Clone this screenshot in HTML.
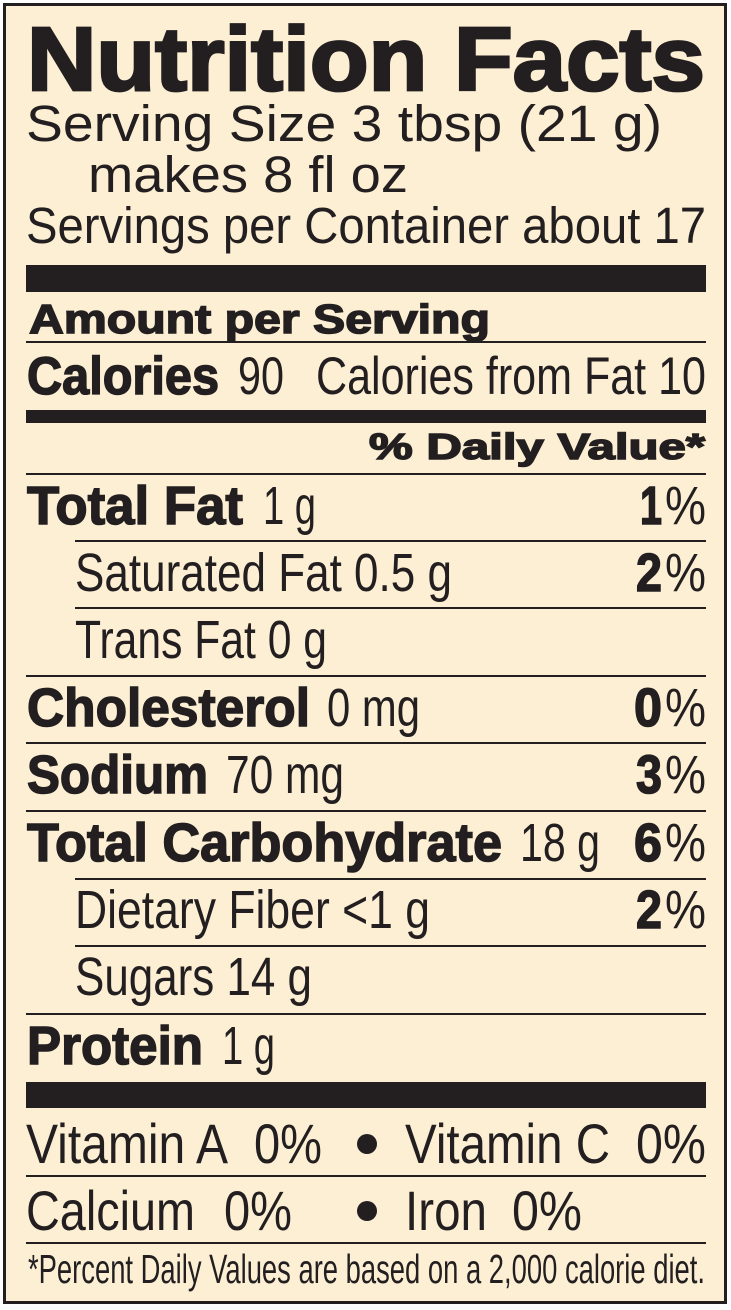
<!DOCTYPE html>
<html>
<head>
<meta charset="utf-8">
<style>
  html, body { margin:0; padding:0; background:#ffffff; }
  body { width:731px; height:1310px; overflow:hidden; }
  svg { display:block; }
  .r { font-family:"Liberation Sans", Arial, sans-serif; font-weight:normal; fill:#231f20; }
  .b { font-family:"Liberation Sans", Arial, sans-serif; font-weight:bold; fill:#231f20; stroke:#231f20; stroke-width:1.5; }
  .t { font-family:"Liberation Sans", Arial, sans-serif; font-weight:bold; fill:#231f20; stroke:#231f20; stroke-width:2.8; }
</style>
</head>
<body>
<svg width="731" height="1310" viewBox="0 0 731 1310" xmlns="http://www.w3.org/2000/svg">
  <rect x="0" y="0" width="731" height="1310" fill="#ffffff"/>
  <rect x="4.5" y="4.5" width="721" height="1298" fill="#fcefd4" stroke="#231f20" stroke-width="3"/>

  <!-- Title -->
  <text class="t" x="27" y="90" font-size="90" textLength="678" lengthAdjust="spacingAndGlyphs">Nutrition Facts</text>

  <text class="r" x="26" y="141" font-size="51" textLength="636" lengthAdjust="spacingAndGlyphs">Serving Size 3 tbsp (21 g)</text>
  <text class="r" x="88" y="192" font-size="51" textLength="320" lengthAdjust="spacingAndGlyphs">makes 8 fl oz</text>
  <text class="r" x="26" y="243" font-size="51" textLength="680" lengthAdjust="spacingAndGlyphs">Servings per Container about 17</text>

  <rect x="26" y="265" width="680" height="27" fill="#231f20"/>

  <text class="b" x="29" y="333" font-size="41" textLength="461" lengthAdjust="spacingAndGlyphs">Amount per Serving</text>
  <rect x="26" y="341" width="680" height="2" fill="#231f20"/>

  <text class="b" x="27" y="394" font-size="53" textLength="192" lengthAdjust="spacingAndGlyphs">Calories</text>
  <text class="r" x="238" y="394" font-size="53" textLength="46" lengthAdjust="spacingAndGlyphs">90</text>
  <text class="r" x="316" y="394" font-size="53" textLength="390" lengthAdjust="spacingAndGlyphs">Calories from Fat 10</text>

  <rect x="26" y="410" width="680" height="13" fill="#231f20"/>

  <text class="b" x="369" y="459" font-size="36" textLength="336" lengthAdjust="spacingAndGlyphs">% Daily Value*</text>
  <rect x="26" y="473" width="680" height="2" fill="#231f20"/>

  <!-- Total Fat -->
  <text class="b" x="27" y="524" font-size="54" textLength="216" lengthAdjust="spacingAndGlyphs">Total Fat</text>
  <text class="r" x="263" y="524" font-size="54" textLength="53" lengthAdjust="spacingAndGlyphs">1 g</text>
  <text class="b" x="640" y="524" font-size="54" textLength="22" lengthAdjust="spacingAndGlyphs">1</text>
  <text class="r" x="665" y="524" font-size="54" textLength="41" lengthAdjust="spacingAndGlyphs">%</text>
  <rect x="75" y="540" width="631" height="2" fill="#231f20"/>

  <!-- Saturated Fat -->
  <text class="r" x="75" y="591" font-size="54" textLength="377" lengthAdjust="spacingAndGlyphs">Saturated Fat 0.5 g</text>
  <text class="b" x="636" y="591" font-size="54" textLength="26" lengthAdjust="spacingAndGlyphs">2</text>
  <text class="r" x="665" y="591" font-size="54" textLength="41" lengthAdjust="spacingAndGlyphs">%</text>
  <rect x="75" y="607" width="631" height="2" fill="#231f20"/>

  <!-- Trans Fat -->
  <text class="r" x="75" y="658" font-size="54" textLength="252" lengthAdjust="spacingAndGlyphs">Trans Fat 0 g</text>
  <rect x="26" y="675" width="680" height="2" fill="#231f20"/>

  <!-- Cholesterol -->
  <text class="b" x="27" y="726" font-size="54" textLength="283" lengthAdjust="spacingAndGlyphs">Cholesterol</text>
  <text class="r" x="327" y="726" font-size="54" textLength="93" lengthAdjust="spacingAndGlyphs">0 mg</text>
  <text class="b" x="634" y="726" font-size="54" textLength="28" lengthAdjust="spacingAndGlyphs">0</text>
  <text class="r" x="665" y="726" font-size="54" textLength="41" lengthAdjust="spacingAndGlyphs">%</text>
  <rect x="26" y="742" width="680" height="2" fill="#231f20"/>

  <!-- Sodium -->
  <text class="b" x="27" y="793" font-size="54" textLength="181" lengthAdjust="spacingAndGlyphs">Sodium</text>
  <text class="r" x="226" y="793" font-size="54" textLength="118" lengthAdjust="spacingAndGlyphs">70 mg</text>
  <text class="b" x="636" y="793" font-size="54" textLength="26" lengthAdjust="spacingAndGlyphs">3</text>
  <text class="r" x="665" y="793" font-size="54" textLength="41" lengthAdjust="spacingAndGlyphs">%</text>
  <rect x="26" y="810" width="680" height="2" fill="#231f20"/>

  <!-- Total Carbohydrate -->
  <text class="b" x="27" y="861" font-size="54" textLength="475" lengthAdjust="spacingAndGlyphs">Total Carbohydrate</text>
  <text class="r" x="520" y="861" font-size="54" textLength="80" lengthAdjust="spacingAndGlyphs">18 g</text>
  <text class="b" x="634" y="861" font-size="54" textLength="28" lengthAdjust="spacingAndGlyphs">6</text>
  <text class="r" x="665" y="861" font-size="54" textLength="41" lengthAdjust="spacingAndGlyphs">%</text>
  <rect x="75" y="878" width="631" height="2" fill="#231f20"/>

  <!-- Dietary Fiber -->
  <text class="r" x="75" y="928" font-size="54" textLength="355" lengthAdjust="spacingAndGlyphs">Dietary Fiber &lt;1 g</text>
  <text class="b" x="636" y="928" font-size="54" textLength="26" lengthAdjust="spacingAndGlyphs">2</text>
  <text class="r" x="665" y="928" font-size="54" textLength="41" lengthAdjust="spacingAndGlyphs">%</text>
  <rect x="75" y="945" width="631" height="2" fill="#231f20"/>

  <!-- Sugars -->
  <text class="r" x="75" y="995" font-size="54" textLength="237" lengthAdjust="spacingAndGlyphs">Sugars 14 g</text>
  <rect x="26" y="1013" width="680" height="2" fill="#231f20"/>

  <!-- Protein -->
  <text class="b" x="27" y="1064" font-size="54" textLength="176" lengthAdjust="spacingAndGlyphs">Protein</text>
  <text class="r" x="222" y="1064" font-size="54" textLength="53" lengthAdjust="spacingAndGlyphs">1 g</text>

  <rect x="26" y="1082" width="680" height="26" fill="#231f20"/>

  <!-- Vitamins -->
  <text class="r" x="26" y="1163" font-size="56" textLength="202" lengthAdjust="spacingAndGlyphs">Vitamin A</text>
  <text class="r" x="254" y="1163" font-size="56" textLength="68" lengthAdjust="spacingAndGlyphs">0%</text>
  <circle cx="367" cy="1144" r="10" fill="#231f20"/>
  <text class="r" x="405" y="1163" font-size="56" textLength="205" lengthAdjust="spacingAndGlyphs">Vitamin C</text>
  <text class="r" x="636" y="1163" font-size="56" textLength="70" lengthAdjust="spacingAndGlyphs">0%</text>
  <rect x="26" y="1175" width="680" height="2" fill="#231f20"/>

  <text class="r" x="26" y="1230" font-size="56" textLength="169" lengthAdjust="spacingAndGlyphs">Calcium</text>
  <text class="r" x="224" y="1230" font-size="56" textLength="68" lengthAdjust="spacingAndGlyphs">0%</text>
  <circle cx="367" cy="1211" r="10" fill="#231f20"/>
  <text class="r" x="405" y="1230" font-size="56" textLength="82" lengthAdjust="spacingAndGlyphs">Iron</text>
  <text class="r" x="512" y="1230" font-size="56" textLength="70" lengthAdjust="spacingAndGlyphs">0%</text>
  <rect x="26" y="1242" width="680" height="2" fill="#231f20"/>

  <text class="r" x="28" y="1283" font-size="41" textLength="677" lengthAdjust="spacingAndGlyphs">*Percent Daily Values are based on a 2,000 calorie diet.</text>
</svg>
</body>
</html>
